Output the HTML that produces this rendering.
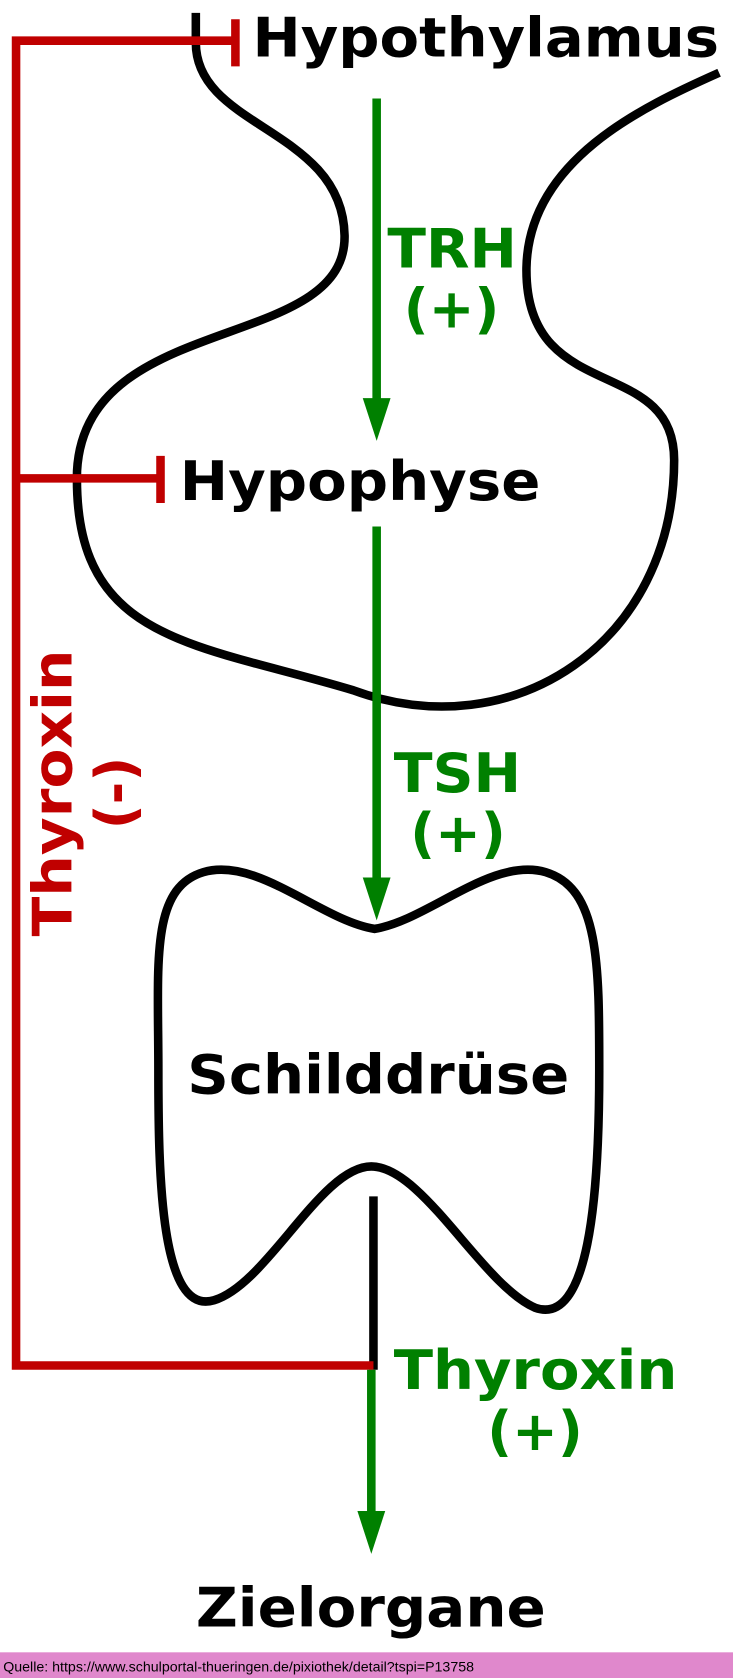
<!DOCTYPE html>
<html><head><meta charset="utf-8"><style>html,body{margin:0;padding:0;background:#fff}svg{display:block}</style></head>
<body>
<svg width="733" height="1678" viewBox="0 0 685 1568" preserveAspectRatio="none" xmlns="http://www.w3.org/2000/svg">
<rect width="685" height="1568" fill="#fff"/>
<g fill="none" stroke="#000" stroke-width="8">
<path d="M183,12 L183,40 C183,120 320,120 322,220 C324,330 80,290 72,440 C68,600 180,600 330,645 C480,700 630,600 630,430 C630,330 490,380 492,250 C494,150 600,100 672,68"/>
<path d="M350,868 C300,860 240,800 190,815 C140,830 148,900 148,1000 C148,1100 150,1230 200,1215 C250,1200 300,1090 347,1090 C395,1090 450,1200 500,1222 C550,1240 560,1120 560,1000 C560,900 560,830 510,815 C460,800 400,860 350,868 Z"/>
<line x1="349" y1="1118" x2="349" y2="1280"/>
</g>
<g stroke="#c00000" stroke-width="8" fill="none">
<polyline points="220,38 15,38 15,1276 349,1276"/>
<line x1="15" y1="447" x2="150" y2="447"/>
<line x1="220" y1="18" x2="220" y2="62"/>
<line x1="150" y1="426" x2="150" y2="470"/>
</g>
<g stroke="#008000" stroke-width="8">
<line x1="352" y1="92" x2="352" y2="378"/>
<line x1="352" y1="492" x2="352" y2="826"/>
<line x1="347" y1="1280" x2="347" y2="1418"/>
</g>
<g fill="#008000">
<polygon points="339,372 365,372 352,412"/>
<polygon points="339,820 365,820 352,860"/>
<polygon points="334,1412 360,1412 347,1452"/>
</g>
<g font-family="DejaVu Sans, Liberation Sans, sans-serif" font-weight="bold" font-size="51">
<text x="236" y="53" textLength="436" lengthAdjust="spacingAndGlyphs">Hypothylamus</text>
<text x="168" y="467" textLength="337" lengthAdjust="spacingAndGlyphs">Hypophyse</text>
<text x="175" y="1022" textLength="357" lengthAdjust="spacingAndGlyphs">Schilddrüse</text>
<text x="183" y="1520" textLength="327" lengthAdjust="spacingAndGlyphs">Zielorgane</text>
<g fill="#008000">
<text x="362" y="250" textLength="121" lengthAdjust="spacingAndGlyphs">TRH</text>
<text x="422" y="306" text-anchor="middle">(+)</text>
<text x="368" y="740" textLength="119" lengthAdjust="spacingAndGlyphs">TSH</text>
<text x="428" y="796" text-anchor="middle">(+)</text>
<text x="368" y="1298" textLength="265" lengthAdjust="spacingAndGlyphs">Thyroxin</text>
<text x="500" y="1355" text-anchor="middle">(+)</text>
</g>
<g fill="#c00000">
<text transform="translate(67,875) rotate(-90)" textLength="268" lengthAdjust="spacingAndGlyphs">Thyroxin</text>
<text transform="translate(125,741) rotate(-90)" text-anchor="middle">(-)</text>
</g>
</g>
<rect x="0" y="1544" width="685" height="24" fill="#e088cc"/>
<text x="3" y="1562" font-family="Liberation Sans, sans-serif" font-size="12.5" fill="#000" textLength="440" lengthAdjust="spacingAndGlyphs">Quelle: https://www.schulportal-thueringen.de/pixiothek/detail?tspi=P13758</text>
</svg>
</body></html>
